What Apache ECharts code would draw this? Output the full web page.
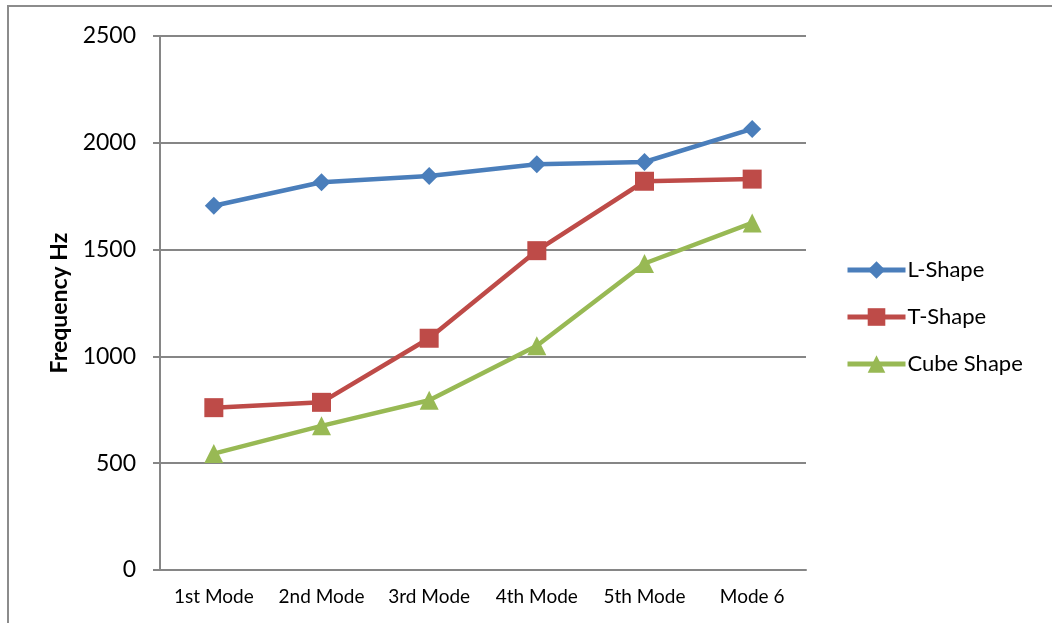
<!DOCTYPE html>
<html>
<head>
<meta charset="utf-8">
<script src="https://cdn.jsdelivr.net/npm/echarts@6/dist/echarts.min.js"></script>
<style>
  html, body { margin: 0; padding: 0; background: #fff; }
  #chart { width: 1052px; height: 623px; }
</style>
</head>
<body>
<div id="chart"></div>
<script>
  // chart data
  var modes = ['1st Mode', '2nd Mode', '3rd Mode', '4th Mode', '5th Mode', 'Mode 6'];
  var lShape = [1705, 1815, 1845, 1900, 1910, 2065];
  var tShape = [760, 785, 1085, 1495, 1820, 1830];
  var cubeShape = [545, 675, 795, 1050, 1435, 1625];

  var font = 'Lato, "Open Sans", sans-serif';
  var axisGray = '#868686';

  var chart = echarts.init(document.getElementById('chart'));
  chart.setOption({
    animation: false,
    textStyle: { fontFamily: font },
    graphic: [
      { type: 'polyline', shape: { points: [[8, 623], [8, 6], [1052, 6]] },
        style: { stroke: '#8c8c8c', lineWidth: 2, fill: null } }
    ],
    grid: { left: 160, right: 246, top: 36, bottom: 53 },
    legend: {
      orient: 'vertical',
      left: 840,
      top: 254,
      itemWidth: 58,
      itemHeight: 22,
      itemGap: 25,
      lineStyle: { width: 5 },
      textStyle: { fontFamily: font, fontSize: 22, color: '#000', padding: [0, 0, 0, -3] },
      data: ['L-Shape', 'T-Shape', 'Cube Shape']
    },
    xAxis: {
      type: 'category',
      data: modes,
      axisLine: { lineStyle: { color: axisGray, width: 2 } },
      axisTick: { length: 6, lineStyle: { color: axisGray, width: 2 } },
      axisLabel: { color: '#000', fontSize: 19, margin: 17, interval: 0, fontFamily: font }
    },
    yAxis: {
      type: 'value',
      min: 0,
      max: 2500,
      interval: 500,
      name: 'Frequency Hz',
      nameLocation: 'middle',
      nameGap: 89,
      nameTextStyle: { fontFamily: font, fontSize: 23, fontWeight: 'bold', color: '#000' },
      axisLine: { show: true, lineStyle: { color: axisGray, width: 2 } },
      axisTick: { show: true, length: 7, lineStyle: { color: axisGray, width: 2 } },
      axisLabel: {
        color: '#000', fontSize: 23, margin: 24, fontFamily: font,
        formatter: function (v) { return String(v); }
      },
      splitLine: { lineStyle: { color: axisGray, width: 2 } }
    },
    series: [
      {
        name: 'L-Shape', type: 'line', data: lShape,
        symbol: 'diamond', symbolSize: 18,
        itemStyle: { color: '#4a7ebb' },
        lineStyle: { color: '#4a7ebb', width: 4.5 }
      },
      {
        name: 'T-Shape', type: 'line', data: tShape,
        symbol: 'rect', symbolSize: 19,
        itemStyle: { color: '#be4b48' },
        lineStyle: { color: '#be4b48', width: 4.5 }
      },
      {
        name: 'Cube Shape', type: 'line', data: cubeShape,
        symbol: 'triangle', symbolSize: 19,
        itemStyle: { color: '#98b954' },
        lineStyle: { color: '#98b954', width: 4.5 }
      }
    ]
  });
</script>
</body>
</html>
